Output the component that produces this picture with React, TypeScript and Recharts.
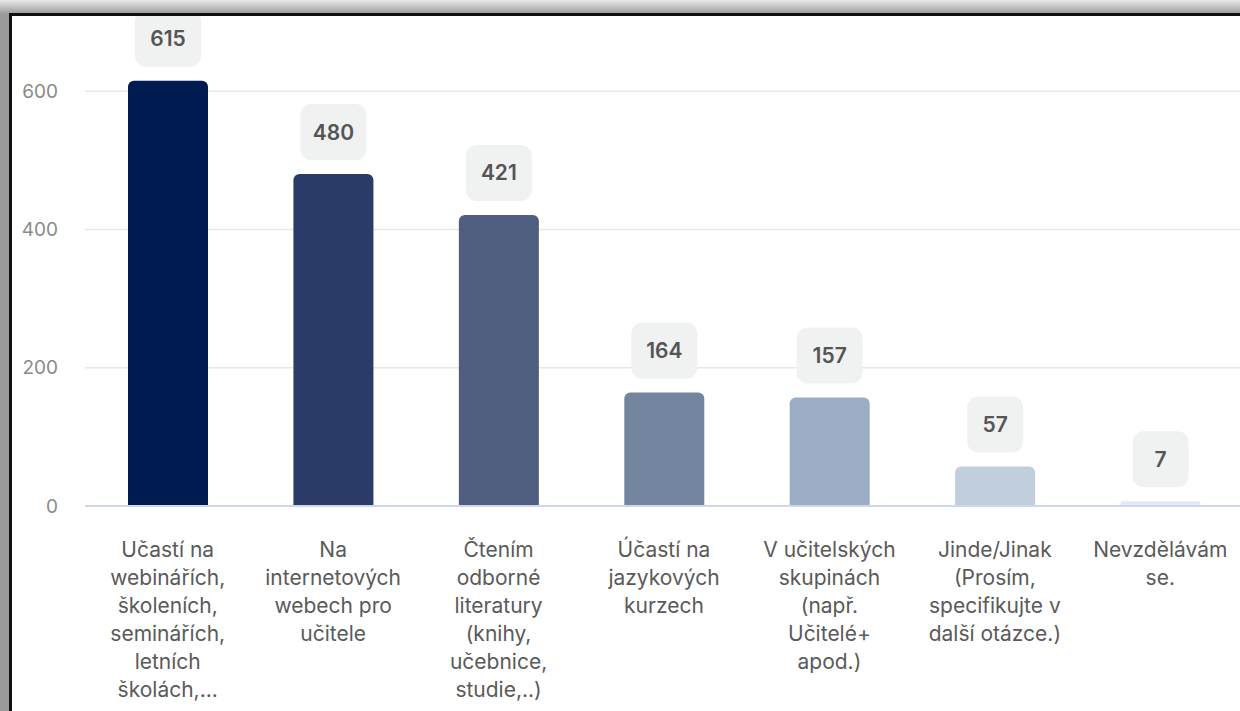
import { Bar, BarChart, CartesianGrid, Cell, LabelList, XAxis, YAxis } from "recharts";

// line breaks follow the wrapping in the source screenshot
const categories = [
  "Učastí na\nwebinářích,\nškoleních,\nseminářích,\nletních\nškolách,...",
  "Na\ninternetových\nwebech pro\nučitele",
  "Čtením\nodborné\nliteratury\n(knihy,\nučebnice,\nstudie,..)",
  "Účastí na\njazykových\nkurzech",
  "V učitelských\nskupinách\n(např.\nUčitelé+\napod.)",
  "Jinde/Jinak\n(Prosím,\nspecifikujte v\ndalší otázce.)",
  "Nevzdělávám\nse.",
];
const counts = [615, 480, 421, 164, 157, 57, 7];
const barColors = ["#001b50", "#2b3b67", "#4f5e7f", "#74859f", "#9cacc4", "#c1cedd", "#e4eaf3"];
const yTicks = [0, 200, 400, 600];

const data = categories.map((name, i) => ({ name, count: counts[i] }));

function CategoryTick({ x, y, payload }: any) {
  const lines = String(payload.value).split("\n");
  return (
    <text x={x} y={y + 42} textAnchor="middle" fill="#5a5a5a" fontSize={21} fontFamily="Inter">
      {lines.map((l, i) => (
        <tspan key={i} x={x} dy={i === 0 ? "0.35em" : 28}>
          {l}
        </tspan>
      ))}
    </text>
  );
}

function ValueBadge({ x, y, width, value }: any) {
  const txt = String(value);
  const w = Math.max(56, txt.length * 12 + 30);
  const cx = x + width / 2;
  const bottom = y - 14;
  return (
    <g>
      <rect x={cx - w / 2} y={bottom - 56} width={w} height={56} rx={11} fill="#f0f1f1" />
      <text x={cx} y={bottom - 28} dy="0.36em" textAnchor="middle" fill="#555" fontSize={21} fontWeight={600} fontFamily="Inter">
        {txt}
      </text>
    </g>
  );
}

export default function App() {
  return (
    <div
      style={{
        position: "absolute",
        left: 0,
        top: 0,
        width: 1240,
        height: 711,
        overflow: "hidden",
        background: "linear-gradient(#e9e9e9, #9a9a9a 14px)",
        fontFamily: "Inter",
      }}
    >
      <div
        style={{
          position: "absolute",
          left: 9,
          top: 13,
          width: 1260,
          height: 720,
          background: "#fff",
          borderLeft: "3px solid #111",
          borderTop: "3px solid #111",
        }}
      >
        <BarChart width={1240} height={695} data={data} margin={{ top: 6, right: 9, left: 0, bottom: 0 }}>
          <CartesianGrid vertical={false} horizontalValues={yTicks} stroke="#e7e7e7" strokeWidth={1.5} />
          <XAxis
            dataKey="name"
            interval={0}
            height={205}
            tickLine={false}
            tickSize={0}
            axisLine={{ stroke: "#cfd7f0", strokeWidth: 2 }}
            tick={<CategoryTick />}
          />
          <YAxis
            domain={[0, 700]}
            ticks={yTicks}
            width={73}
            axisLine={false}
            tickLine={false}
            tickSize={0}
            tickMargin={27}
            tick={{ fill: "#8a8a8a", fontSize: 19, fontFamily: "Inter" }}
          />
          <Bar dataKey="count" barSize={80} radius={[6, 6, 0, 0]} isAnimationActive={false}>
            {data.map((d, i) => (
              <Cell key={d.name} fill={barColors[i]} />
            ))}
            <LabelList dataKey="count" content={<ValueBadge />} />
          </Bar>
        </BarChart>
      </div>
    </div>
  );
}
